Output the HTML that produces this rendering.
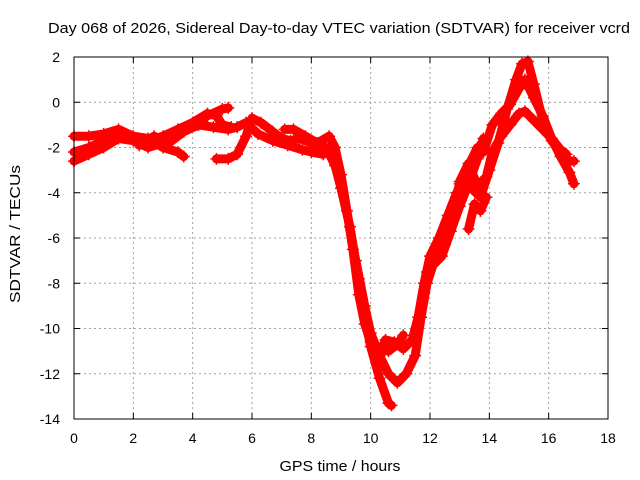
<!DOCTYPE html>
<html><head><meta charset="utf-8"><style>
body{margin:0;background:#fff;}
svg{display:block;font-family:"Liberation Sans",sans-serif;}
</style></head><body>
<svg id="chart" width="640" height="480">
<text x="339" y="33" font-size="15" text-anchor="middle" textLength="582" lengthAdjust="spacingAndGlyphs">Day 068 of 2026, Sidereal Day-to-day VTEC variation (SDTVAR) for receiver vcrd</text>
<text x="340" y="471" font-size="15" text-anchor="middle" textLength="121" lengthAdjust="spacingAndGlyphs">GPS time / hours</text>
<text x="20" y="234" font-size="15" text-anchor="middle" textLength="138" lengthAdjust="spacingAndGlyphs" transform="rotate(-90 20 234)">SDTVAR / TECUs</text>
<g id="grid"></g>
<g id="ticks"></g>
<g id="series"></g>
<rect x="74" y="57" width="534" height="362" fill="none" stroke="#000" stroke-width="1"/>
</svg>
<script>
const xTicks=[0,2,4,6,8,10,12,14,16,18];
const yTicks=[2,0,-2,-4,-6,-8,-10,-12,-14];
const track1=[[0,-2.6],[0.5,-2.3],[1,-2.0],[1.5,-1.6],[2,-1.7],[2.5,-2.0],[3,-1.8],[3.5,-1.3],[4,-1.0],[4.5,-0.6],[5,-0.3],[5.2,-0.25]];
const track2=[[0,-1.5],[0.5,-1.5],[1,-1.4],[1.5,-1.2],[2,-1.5],[2.5,-1.6],[3,-2.0],[3.5,-2.2],[3.7,-2.4]];
const track3=[[0,-2.2],[0.5,-2.0],[1,-1.7],[1.5,-1.5],[2,-1.6],[2.5,-1.7],[3,-1.5],[3.5,-1.2],[4,-0.9],[4.5,-0.5],[4.8,-0.6],[5,-1.0],[5.3,-1.1]];
const track4=[[2.2,-1.9],[2.7,-1.5],[3.2,-1.8],[3.7,-1.3],[4.2,-1.0],[4.7,-1.1],[5.2,-1.2],[5.5,-1.1],[5.8,-0.9],[6.2,-1.4],[6.7,-1.7],[7.2,-1.9],[7.7,-2.1],[8,-2.2],[8.4,-2.3]];
const track5=[[4.8,-2.5],[5.2,-2.5],[5.5,-2.3],[5.8,-1.5],[6,-0.7],[6.3,-0.9],[6.7,-1.3],[7,-1.6],[7.3,-1.7],[7.6,-1.6],[8,-1.8],[8.5,-2.0],[8.8,-2.8],[9,-3.8],[9.3,-5.5],[9.6,-7.8],[9.8,-9.5],[10,-10.8],[10.3,-12.2],[10.6,-13.3],[10.7,-13.4]];
const track6=[[7.1,-1.2],[7.4,-1.2],[7.8,-1.5],[8.2,-1.8],[8.6,-1.5],[8.8,-2.0],[9,-3.2],[9.2,-4.8],[9.4,-6.5],[9.6,-8.5],[9.8,-9.8],[10,-10.6],[10.3,-10.9],[10.6,-11.0],[10.9,-10.7],[11.1,-10.3]];
const track7=[[9.5,-7.0],[9.8,-9.0],[10,-10.2],[10.3,-11.2],[10.6,-12.0],[10.9,-12.4],[11.2,-12.0],[11.5,-11.2],[11.7,-9.5],[11.9,-8.0],[12.1,-7.2],[12.4,-6.8],[12.7,-5.7],[13,-4.6],[13.3,-3.6],[13.6,-2.5],[13.8,-1.6]];
const track8=[[10.2,-11.5],[10.5,-10.5],[10.8,-10.6],[11.1,-10.9],[11.4,-10.5],[11.6,-9.5],[11.8,-8.0],[12,-6.8],[12.3,-6.0],[12.6,-5.0],[12.9,-4.0],[13.1,-3.6],[13.4,-3.8],[13.7,-4.2],[14,-3.0],[14.3,-1.8],[14.6,-0.3],[14.9,1.0],[15.1,1.7],[15.3,1.8],[15.5,0.8],[15.8,-0.8],[16.1,-1.7],[16.4,-2.2],[16.7,-2.6],[16.85,-2.6]];
const track9=[[11.9,-7.5],[12.2,-6.6],[12.5,-6.3],[12.7,-5.0],[13,-3.6],[13.3,-2.8],[13.6,-2.0],[13.8,-2.2],[14.1,-1.0],[14.4,-0.5],[14.7,-0.1],[15,0.6],[15.2,1.0],[15.5,0.2],[15.8,-0.6],[16.1,-1.6],[16.4,-2.4],[16.7,-3.1],[16.85,-3.6]];
const track10=[[13,-3.5],[13.3,-2.7],[13.6,-3.7],[13.9,-3.3],[14.1,-2.2],[14.4,-1.5],[14.7,-1.0],[15,-0.5],[15.2,-0.4],[15.5,-0.8],[15.8,-1.2],[16.1,-1.6],[16.4,-2.1],[16.6,-2.3]];
const track11=[[13.3,-5.6],[13.5,-4.5],[13.7,-4.8],[13.9,-4.2]];
const tracks=[track1,track2,track3,track4,track5,track6,track7,track8,track9,track10,track11];

const X0=74,X1=608,Y0=57,Y1=419;
function sx(v){return X0+(v-0)/(18-0)*(X1-X0);}
function sy(v){return Y0+(2-v)/(2-(-14))*(Y1-Y0);}
const NS='http://www.w3.org/2000/svg';
function mk(tag,attrs,parent){const e=document.createElementNS(NS,tag);for(const k in attrs)e.setAttribute(k,attrs[k]);parent.appendChild(e);return e;}
const grid=document.getElementById('grid'),ticks=document.getElementById('ticks'),ser=document.getElementById('series');
xTicks.forEach(t=>{
  const x=sx(t);
  if(t>0&&t<18){const g=mk('line',{x1:x,x2:x,y1:Y0,y2:Y1,stroke:'#a0a0a0','stroke-dasharray':'2,3'},grid);
  
  }
  mk('line',{x1:x,x2:x,y1:Y1,y2:Y1-6,stroke:'#000'},grid);
  mk('line',{x1:x,x2:x,y1:Y0,y2:Y0+6,stroke:'#000'},grid);
  const l=mk('text',{x:x,y:Y1+24,'font-size':14,'text-anchor':'middle'},ticks);l.textContent=t;
  
  
});
yTicks.forEach(t=>{
  const y=sy(t);
  if(t<2&&t>-14){const g=mk('line',{x1:X0,x2:X1,y1:y,y2:y,stroke:'#a0a0a0','stroke-dasharray':'2,3'},grid);
  
  }
  mk('line',{x1:X0,x2:X0+6,y1:y,y2:y,stroke:'#000'},grid);
  mk('line',{x1:X1,x2:X1-6,y1:y,y2:y,stroke:'#000'},grid);
  const l=mk('text',{x:X0-14,y:y+5,'font-size':14,'text-anchor':'end'},ticks);l.textContent=t;
  
  
});
tracks.forEach((tr,i)=>{
  const pts=tr.map(p=>sx(p[0])+','+sy(p[1])).join(' ');
  const pl=mk('polyline',{points:pts,fill:'none',stroke:'#ff0000','stroke-width':9,'stroke-linejoin':'round','stroke-linecap':'round'},ser);
  
  
  tr.forEach(p=>{
    const x=sx(p[0]),y=sy(p[1]);
    const m=mk('path',{d:`M${x-6},${y}H${x+6}M${x},${y-6}V${y+6}`,stroke:'#ff0000','stroke-width':1.5},ser);
    
    
  });
});
</script>
</body></html>
